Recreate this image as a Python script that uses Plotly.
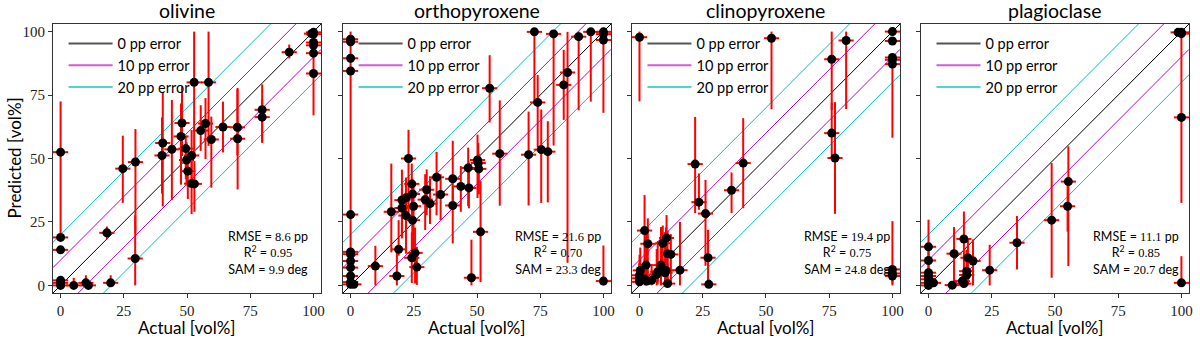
import plotly.graph_objects as go

# ---------------- data ----------------
minerals = ["olivine", "orthopyroxene", "clinopyroxene", "plagioclase"]

ol_actual = [0, 0, 0, 0, 0, 0, 5.2, 10, 11, 18.3, 19.8, 24.6, 29.6, 29.5, 40.1, 40.4, 44, 47.6, 48,
             49.5, 49.8, 50.3, 51.8, 51.8, 52.9, 52.8, 58.5, 55.4, 57.3, 59.6, 64.2, 69.9, 70, 79.7,
             79.7, 90.4, 100, 100, 99.2, 100, 100, 100, 100]
ol_pred = [52.5, 18.9, 14, 2, 1, 0, 0, 1, 0, 20.7, 1, 46, 48.6, 10.6, 51.2, 56.1, 53.6, 58.7, 64,
           53.9, 49.4, 45, 51.2, 40.1, 40, 80, 80, 61, 63.8, 57.5, 62.4, 62.3, 57.8, 69.2,
           66.3, 91.9, 99.7, 99, 99.2, 95.7, 94.6, 91.5, 83.5]
ol_err_up = [20, 1, 1, 1, 1, 1, 3, 3, 2, 2.5, 3, 13, 13, 17, 15, 20, 19.5, 13, 14.5,
             5, 7, 6, 10, 10, 9, 20, 20, 10, 10, 9, 10, 15, 20, 10,
             7, 3, 0.3, 1, 0.8, 1, 1, 2, 11.5]
ol_err_down = [34, 1, 1, 2, 1, 0, 0, 1, 0, 2.5, 1, 13.5, 28, 10.6, 15, 25, 20, 19, 13,
               12, 10, 11, 11, 12, 11, 30, 25, 8, 14, 19, 10, 11, 20, 13,
               10, 2.5, 1, 1, 1, 1, 1, 2, 16.5]

opx_actual = [0, 0, 0, 0, 0, 0, 0, 0, 0, 0, 0, 0, 1.3, 9.8, 18.3, 19, 16.1, 20.3, 20.3, 21.9,
              21.9, 22.9, 24.2, 24.5, 24.9, 24.5, 24.2, 26.2, 25.5, 29.5, 30.1, 31.4, 34, 35.6,
              40.4, 40.4, 43.6, 46.5, 46.8, 47.8, 50.2, 50.5, 50.7, 51.4, 55, 59, 70.4, 72.7,
              74, 75.4, 78, 80.3, 84.3, 85.8, 90.2, 95, 100, 100, 100, 100]
opx_pred = [97, 96, 89.5, 84.5, 27.9, 13.2, 12.3, 9.6, 7, 3.7, 1.3, 0.4, 0.4, 7.6, 3.7, 14.2, 29,
            33.6, 30.5, 34.5, 27.5, 50, 40, 36, 31.2, 25.7, 10.9, 7.2, 12.8, 33.8, 37.7, 32.2,
            42.6, 35.8, 42, 31.5, 39, 46.3, 38.4, 3, 49.4, 48.2, 45.9, 21.1, 77.7, 51.9, 51.5,
            99.9, 72.1, 53.5, 52.7, 99.1, 79, 83.9, 98, 99.9, 99.9, 99, 96.7, 1.7]
opx_err_up = [3, 1, 1, 1, 1, 1, 1, 1, 1, 1, 1, 1, 1, 8, 11, 11.5, 19, 12, 8, 8,
              10, 11.3, 8, 6, 8, 8, 10, 8, 10, 10, 8, 10, 10, 8,
              15, 8, 8, 8, 10, 15, 10, 8, 6, 20, 13, 21, 17, 0.1,
              10.8, 15.8, 12, 0.9, 13.8, 16, 2, 0.1, 0.1, 1, 1, 14]
opx_err_down = [97, 1, 1, 1, 1, 1, 1, 1, 1, 1, 1, 0.4, 0.4, 7.6, 3.7, 2.5, 16, 14, 12, 14,
                15, 21.4, 15, 20, 21, 16, 10, 7, 12, 12, 10, 8, 15, 10,
                10, 15, 10, 15, 8, 3, 15, 12, 10, 19.8, 13.5, 20.5, 20, 28.5,
                17.7, 21, 20, 44, 13.8, 75, 29, 27.5, 1, 31, 1, 1.7]

cpx_actual = [0, 52.2, 76, 76, 77.3, 81.7, 100, 100, 100, 100, 100, 100, 100, 100, 22, 41, 23.5,
              26.1, 36.4, 27.1, 27.4, 2, 3.3, 2.6, 0.3, 0, 0, 0, 2, 2.9, 4.8, 6.8, 7.2, 8.5,
              10.1, 10.5, 9.2, 10.7, 11.1, 12.4, 11.1, 16]
cpx_pred = [97.8, 97.4, 89.1, 60, 50.2, 96.5, 100, 96.3, 89.8, 88.9, 87.2, 6.3, 4.7, 3.7, 47.8,
            48.2, 32.8, 28.3, 37.5, 10.9, 0.4, 21.6, 16.4, 8, 5.9, 4, 2.8, 1.4, 2.5, 1.7, 2,
            4.3, 5.4, 8, 5, 5.9, 16.6, 18.7, 12.5, 12.2, 0.7, 6]
cpx_err_up = [2.2, 2.6, 10.9, 12, 22, 3.5, 0, 1, 1, 1, 2, 19, 1, 1, 18.6, 17.7, 11.3,
              13.3, 7, 11, 2, 14, 10, 15, 9, 8, 6, 5, 8, 6, 6,
              10, 12, 15, 16, 17, 7, 9, 9, 8, 10, 19]
cpx_err_down = [25.3, 28, 20, 10, 22, 27, 1, 1, 1, 1, 29, 6.3, 1, 3, 19.3, 17.8, 3,
                20.6, 9, 10.9, 0.4, 21, 15, 8, 5.9, 4, 2.8, 1.4, 2.5, 1.7, 2,
                4.3, 5, 8, 5, 5.9, 13, 12, 10, 11, 0.7, 6]

plg_actual = [100, 98.7, 100, 100, 100, 55.3, 55, 48.7, 35, 24.2, 0, 0, 0, 0, 0, 0, 0, 9.4,
              10.1, 14, 13.4, 14, 15.1, 15.1, 15.6, 17.6, 2]
plg_pred = [99.7, 99.7, 99.2, 66.2, 1, 40.9, 31.2, 25.7, 16.8, 6, 15.2, 9.8, 5, 3.7, 2.4, 1, 0,
            0.1, 12.5, 18.3, 1.7, 0.7, 5.6, 4.1, 10.9, 9.6, 1]
plg_err_up = [0.3, 0.3, 0.8, 33.8, 10.5, 13.9, 10, 22.5, 10.5, 10, 10.7, 4, 2, 2, 2, 1, 1,
              1, 10.5, 10.8, 2, 2, 8, 10, 7, 8.5, 2]
plg_err_down = [1, 1, 1, 33.7, 1, 33.3, 10, 22.7, 10.5, 6, 15.2, 4, 2, 2, 2, 1, 0,
                0.1, 12.5, 18.3, 1.7, 0.7, 5.6, 4.1, 10.9, 9.6, 1]

rmse = [8.6, 21.6, 19.4, 11.1]
r2 = ["0.95", "0.70", "0.75", "0.85"]
sam = [9.9, 23.3, 24.8, 20.7]

error_offsets = [0, 10, 20]
error_colors = ["black", "#bf00bf", "#00bfbf"]
legend_colors = ["#555555", "#d45ad4", "#4fd3d3"]

panels = [
    (ol_actual, ol_pred, ol_err_up, ol_err_down),
    (opx_actual, opx_pred, opx_err_up, opx_err_down),
    (cpx_actual, cpx_pred, cpx_err_up, cpx_err_down),
    (plg_actual, plg_pred, plg_err_up, plg_err_down),
]

SANS = "Lato"
SERIF = "Liberation Serif"
AX_RANGE = [-3, 103]
domains = [[0.0, 0.236], [0.2553, 0.4912], [0.5096, 0.7456], [0.764, 1.0]]

fig = go.Figure()

for i, (act, pred, eup, edn) in enumerate(panels):
    n = "" if i == 0 else str(i + 1)
    xa, ya = "x" + n, "y" + n
    leg = "legend" + n

    # 0 / 10 / 20 pp error lines
    for off, col, lcol in zip(error_offsets, error_colors, legend_colors):
        for s in ([1] if off == 0 else [1, -1]):
            fig.add_trace(go.Scatter(
                x=AX_RANGE, y=[AX_RANGE[0] + s * off, AX_RANGE[1] + s * off],
                mode="lines", line=dict(color=col, width=1),
                showlegend=False, xaxis=xa, yaxis=ya, hoverinfo="skip"))
        # legend-only entry (thicker sample like the reference)
        fig.add_trace(go.Scatter(
            x=[None], y=[None], mode="lines", line=dict(color=lcol, width=2),
            name=f"{off} pp error", legend=leg, xaxis=xa, yaxis=ya))

    fig.add_trace(go.Scatter(
        x=act, y=pred, mode="markers",
        marker=dict(color="black", size=9),
        error_y=dict(type="data", array=eup, arrayminus=edn, color="red",
                     thickness=2, width=0),
        error_x=dict(type="constant", value=3, color="red", thickness=2, width=0),
        showlegend=False, xaxis=xa, yaxis=ya))

    # stats box
    fig.add_annotation(
        xref=xa, yref=ya, x=82, y=12.8, xanchor="center", yanchor="middle",
        showarrow=False, align="center",
        font=dict(family=SANS, size=12.5, color="black"),
        text=(f"RMSE = <span style='font-family:{SERIF}'>{rmse[i]}</span> pp<br>"
              f"R<sup>2</sup> = <span style='font-family:{SERIF}'>{r2[i]}</span><br>"
              f"SAM = <span style='font-family:{SERIF}'>{sam[i]}</span> deg"))

    # panel title
    fig.add_annotation(
        xref="paper", yref="paper", x=sum(domains[i]) / 2, y=1.0,
        xanchor="center", yanchor="bottom", yshift=0, showarrow=False,
        text=minerals[i], font=dict(family=SANS, size=19.5, color="black"))

    # x axis title
    fig.add_annotation(
        xref="paper", yref="paper", x=sum(domains[i]) / 2, y=0,
        xanchor="center", yanchor="middle", yshift=-34, showarrow=False,
        text="Actual [vol%]", font=dict(family=SANS, size=17, color="black"))

    axis_common = dict(
        range=AX_RANGE, tickvals=[0, 25, 50, 75, 100], ticks="outside", ticklen=4,
        tickcolor="#333", showline=True, linecolor="#333", linewidth=1, mirror=True,
        showgrid=False, zeroline=False,
        tickfont=dict(family=SERIF, size=15, color="#222"))
    fig.update_layout({
        "xaxis" + n: dict(axis_common, domain=domains[i], anchor=ya),
        "yaxis" + n: dict(axis_common, domain=[0, 1], anchor=xa,
                          showticklabels=(i == 0)),
        leg: dict(x=domains[i][0] + 0.0093, y=0.987, xanchor="left", yanchor="top",
                  bgcolor="rgba(255,255,255,0)", borderwidth=0, itemwidth=44,
                  font=dict(family=SANS, size=14.5, color="black"), tracegroupgap=0),
    })

# y axis title
fig.add_annotation(
    xref="paper", yref="paper", x=0, y=0.5, xanchor="center", yanchor="middle",
    xshift=-39, textangle=-90, showarrow=False,
    text="Predicted [vol%]", font=dict(family=SANS, size=17, color="black"))

fig.update_layout(
    width=1200, height=339,
    margin=dict(l=53, r=7, t=24, b=46),
    plot_bgcolor="white", paper_bgcolor="white",
)

# drop the default page margin so the figure sits at the window's corner
fig.write_html("out.html", config={"displayModeBar": False},
               post_script="document.body.style.margin = '0';")
